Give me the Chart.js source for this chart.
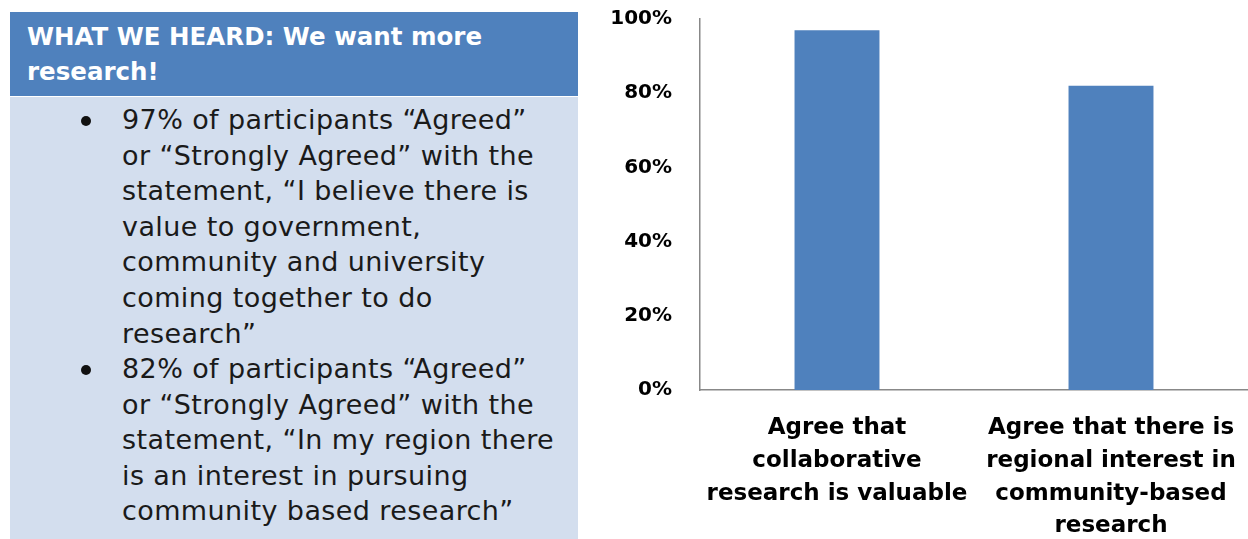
<!DOCTYPE html>
<html>
<head>
<meta charset="utf-8">
<script src="https://cdn.jsdelivr.net/npm/chart.js@4.4.1/dist/chart.umd.min.js"></script>
<style>
  html, body { margin: 0; padding: 0; background: #ffffff; }
  body { width: 1248px; height: 539px; position: relative; overflow: hidden; font-family: "DejaVu Sans", sans-serif; }
  #hdr { position: absolute; left: 10px; top: 12px; width: 568px; height: 84px; background: #4F81BD; color: #fff;
         font-weight: bold; font-size: 24.5px; line-height: 35px; box-sizing: border-box; padding: 7px 0 0 17px; white-space: nowrap; }
  #body { position: absolute; left: 10px; top: 97px; width: 568px; height: 442px; background: #D3DEEE; color: #1a1a1a;
          font-size: 27px; letter-spacing: 0.4px; line-height: 35.6px; white-space: nowrap; }
  .item { position: absolute; left: 112px; }
  .dot { position: absolute; left: -41px; top: 14px; width: 10px; height: 10px; border-radius: 50%; background: #111; }
  #wrap { position: absolute; left: 590px; top: 0; }
</style>
</head>
<body>
<div id="hdr">WHAT WE HEARD: We want more<br>research!</div>
<div id="body">
  <div class="item" style="top:5px"><span class="dot"></span>97% of participants “Agreed”<br>or “Strongly Agreed” with the<br>statement, “I believe there is<br>value to government,<br>community and university<br>coming together to do<br>research”</div>
  <div class="item" style="top:254px"><span class="dot"></span>82% of participants “Agreed”<br>or “Strongly Agreed” with the<br>statement, “In my region there<br>is an interest in pursuing<br>community based research”</div>
</div>
<div id="wrap"><canvas id="c" width="658" height="539"></canvas></div>
<script>
const categories = [
  ["Agree that", "collaborative", "research is valuable"],
  ["Agree that there is", "regional interest in", "community-based", "research"]
];
const values = [97, 82];
const yMin = 0, yMax = 100, yStep = 20;

function zeroPad(s) { s.paddingTop = 0; s.paddingBottom = 0; s.paddingLeft = 0; s.paddingRight = 0; }

new Chart(document.getElementById('c'), {
  type: 'bar',
  data: {
    labels: categories,
    datasets: [{ data: values, backgroundColor: '#4F81BD', borderWidth: 0,
                 categoryPercentage: 1.0, barPercentage: 0.31 }]
  },
  options: {
    responsive: false,
    animation: false,
    layout: { padding: { top: 19, right: 0, left: 0, bottom: 0 } },
    plugins: { legend: { display: false }, tooltip: { enabled: false } },
    scales: {
      x: {
        grid: { display: false, drawTicks: false },
        border: { color: '#888888', width: 1.5 },
        ticks: { color: '#000', font: { family: 'DejaVu Sans', weight: 'bold', size: 23, lineHeight: 1.42 }, padding: 22, maxRotation: 0, autoSkip: false },
        afterFit: s => { s.height = 149; zeroPad(s); }
      },
      y: {
        min: yMin, max: yMax,
        grid: { display: false, drawTicks: false },
        border: { color: '#888888', width: 1.5 },
        ticks: { stepSize: yStep, color: '#000', padding: 28,
                 font: { family: 'DejaVu Sans', weight: 'bold', size: 20 },
                 callback: v => v + '%' },
        afterFit: s => { s.width = 110; zeroPad(s); }
      }
    }
  }
});
</script>
</body>
</html>
